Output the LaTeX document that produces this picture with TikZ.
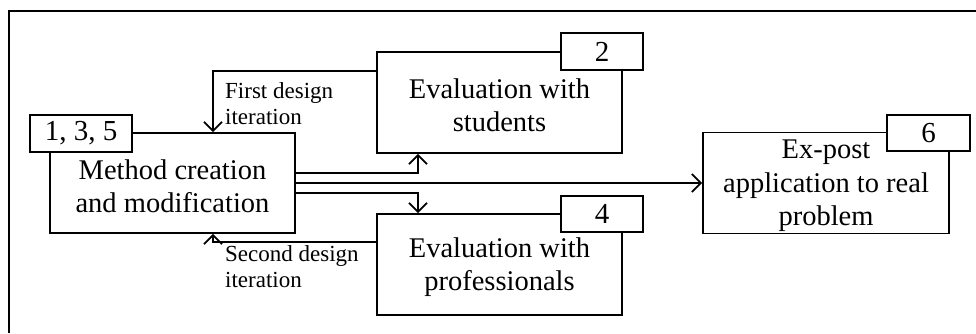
\documentclass[tikz,border=0pt]{standalone}
\usepackage{fontspec}
\setmainfont{Liberation Serif}
\usetikzlibrary{arrows.meta,calc}
\tikzset{
  block/.style={draw, line width=1.8pt, minimum width=245pt, minimum height=101pt, inner sep=0pt},
  tag/.style={draw, line width=1.8pt, fill=white, inner sep=0pt, font=\fontsize{29}{33}\selectfont},
  body/.style={align=center, font=\fontsize{28.5}{33.5}\selectfont, inner sep=0pt},
  note/.style={align=left, anchor=west, font=\fontsize{23}{26}\selectfont, inner sep=0pt},
  link/.style={line width=1.8pt, -{Straight Barb[length=9pt,width=18pt,line width=1.8pt]}},
}
\begin{document}
\begin{tikzpicture}[x=1pt,y=-1pt]
\useasboundingbox (0,0) rectangle (976,333);
% outer frame (continues past the page edge)
\draw[line width=1.8pt] (9,333) -- (9,11) -- (976,11);

% main blocks
\node[block, minimum height=100pt] (meth) at (172.5,183) {};
\node[body] at (172.5,186) {Method creation\\and modification};
\node[tag, minimum width=102pt, minimum height=37pt] (t135) at (81,133.5) {1, 3, 5};

\node[block] (stud) at (499.5,102.5) {};
\node[body] at (499.5,105) {Evaluation with\\students};
\node[tag, minimum width=82pt, minimum height=37pt] (t2) at (602,51.5) {2};

\node[block] (prof) at (499.5,264.5) {};
\node[body] at (499.5,267) {Evaluation with\\professionals};
\node[tag, minimum width=82pt, minimum height=36pt] (t4) at (602,214) {4};

\node[block, minimum width=246pt] (expo) at (826,183) {};
\node[body] at (826,186) {Ex-post\\application to real\\problem};
\node[tag, minimum width=83pt, minimum height=36pt] (t6) at (928.5,133) {6};

% feedback loops
\draw[link] ([yshift=-20pt]stud.north west) -| ([xshift=40.5pt]meth.north);
\node[note] (n1) at (225,104) {First design\\iteration};
\draw[link] ([yshift=-28.5pt]prof.north west) -| ([xshift=40.5pt]meth.south);
\node[note] (n2) at (225,267) {Second design\\iteration};

% forward arrows
\draw[link] ([yshift=10pt]meth.east) -| ([xshift=-81.5pt]stud.south);
\draw[link] (meth.east) -- (expo.west);
\draw[link] ([yshift=-10pt]meth.east) -| ([xshift=-81.5pt]prof.north);
\end{tikzpicture}
\end{document}
